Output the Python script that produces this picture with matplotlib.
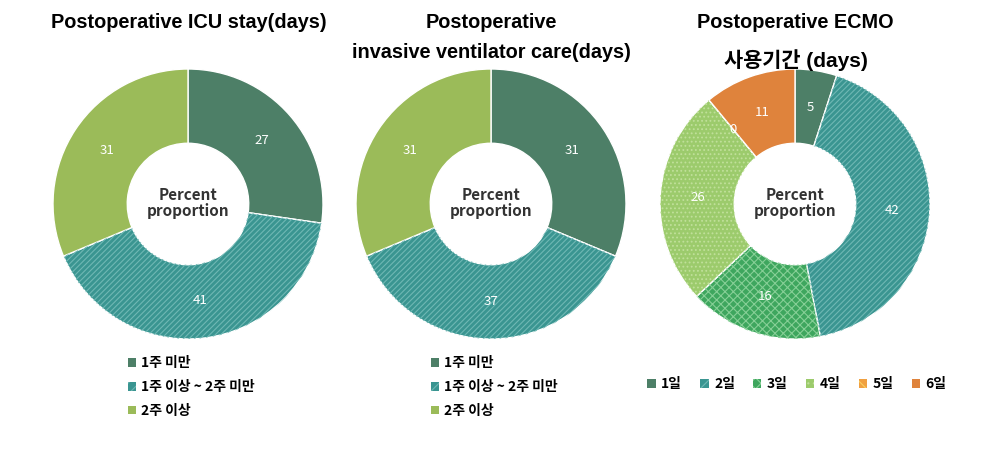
import matplotlib
matplotlib.use("Agg")
import matplotlib.pyplot as plt
from matplotlib.patches import Wedge, Patch
import numpy as np

plt.rcParams["font.family"] = ["Liberation Sans", "Noto Sans CJK KR", "DejaVu Sans"]
plt.rcParams["hatch.linewidth"] = 0.8

# data
week_labels = ["1주 미만", "1주 이상 ~ 2주 미만", "2주 이상"]
icu_values = [27, 41, 31]
vent_values = [31, 37, 31]
ecmo_labels = ["1일", "2일", "3일", "4일", "5일", "6일"]
ecmo_values = [5, 42, 16, 26, 0, 11]

week_colors = ["#4d7f67", "#3a9591", "#9bbb59"]
week_hatch = [None, ("//////", "#6fb8b4"), None]
ecmo_colors = ["#4d7f67", "#3a9591", "#3ea65e", "#9ccb6c", "#f0a040", "#df833c"]
ecmo_hatch = [None, ("//////", "#6fb8b4"), ("xxxx", "#86cf96"), ("....", "#c0e09a"),
              ("\\\\\\\\", "#f8d060"), None]

W, H = 985, 454
fig = plt.figure(figsize=(W / 100, H / 100), dpi=100)

centers = [(188, 204), (491, 204), (795, 204)]
R = 135


def legend_handles(colors, hatches):
    hs = []
    for c, h in zip(colors, hatches):
        if h is None:
            hs.append(Patch(facecolor=c, edgecolor=c, linewidth=0))
        else:
            hs.append(Patch(facecolor=c, edgecolor=h[1], hatch=h[0][:3], linewidth=0))
    return hs


def donut(cx, cy, values, colors, hatches):
    ax = fig.add_axes([(cx - R) / W, 1 - (cy + R) / H, 2 * R / W, 2 * R / H])
    wedges, _ = ax.pie(values, colors=colors, startangle=90, counterclock=False,
                       radius=1, wedgeprops=dict(width=0.55, edgecolor="white", linewidth=1))
    for w, h in zip(wedges, hatches):
        if h is None:
            continue
        ov = Wedge(w.center, w.r, w.theta1, w.theta2, width=w.width, fill=False,
                   hatch=h[0], edgecolor=h[1], linewidth=0)
        ax.add_patch(ov)
    for w, v in zip(wedges, values):
        ang = np.deg2rad((w.theta1 + w.theta2) / 2)
        ax.text(0.72 * np.cos(ang), 0.72 * np.sin(ang), str(v), ha="center", va="center",
                color="white", fontsize=9.5, family=["Noto Sans CJK KR", "DejaVu Sans"])
    ax.text(0, 0.01, "Percent\nproportion", ha="center", va="center", fontsize=11,
            fontweight="bold", color="#333333", linespacing=1.0,
            family=["Noto Sans CJK KR", "DejaVu Sans"])
    ax.set_xlim(-1, 1)
    ax.set_ylim(-1, 1)
    ax.axis("off")
    return ax, wedges


leg_prop = dict(family=["Noto Sans CJK KR"], weight="bold", size=10)

for i, (cx, cy) in enumerate(centers[:2]):
    vals = icu_values if i == 0 else vent_values
    ax, wedges = donut(cx, cy, vals, week_colors, week_hatch)
    fig.legend(legend_handles(week_colors, week_hatch), week_labels, loc="upper left",
               bbox_to_anchor=((cx - 73) / W, 1 - 344 / H), frameon=False, prop=leg_prop,
               handlelength=0.6, handleheight=0.6, handletextpad=0.35, labelspacing=0.7)

ax, wedges = donut(*centers[2], ecmo_values, ecmo_colors, ecmo_hatch)
fig.legend(legend_handles(ecmo_colors, ecmo_hatch), ecmo_labels, loc="center", ncol=6,
           bbox_to_anchor=(797 / W, 1 - 384 / H), frameon=False, prop=leg_prop,
           handlelength=0.6, handleheight=0.6, handletextpad=0.4, columnspacing=1.3)

tsize = 14.3
fig.text(189 / W, 1 - 23 / H, "Postoperative ICU stay(days)", ha="center", va="center",
         fontsize=tsize, fontweight="bold")
fig.text(491 / W, 1 - 23 / H, "Postoperative", ha="center", va="center",
         fontsize=tsize, fontweight="bold")
fig.text(491 / W, 1 - 52 / H, "invasive ventilator care(days)", ha="center", va="center",
         fontsize=tsize, fontweight="bold")
fig.text(795 / W, 1 - 23 / H, "Postoperative ECMO", ha="center", va="center",
         fontsize=tsize, fontweight="bold")
fig.text(796 / W, 1 - 60 / H, "사용기간 (days)", ha="center", va="center",
         fontsize=15, fontweight="bold")

fig.savefig("out.png", dpi=100)
